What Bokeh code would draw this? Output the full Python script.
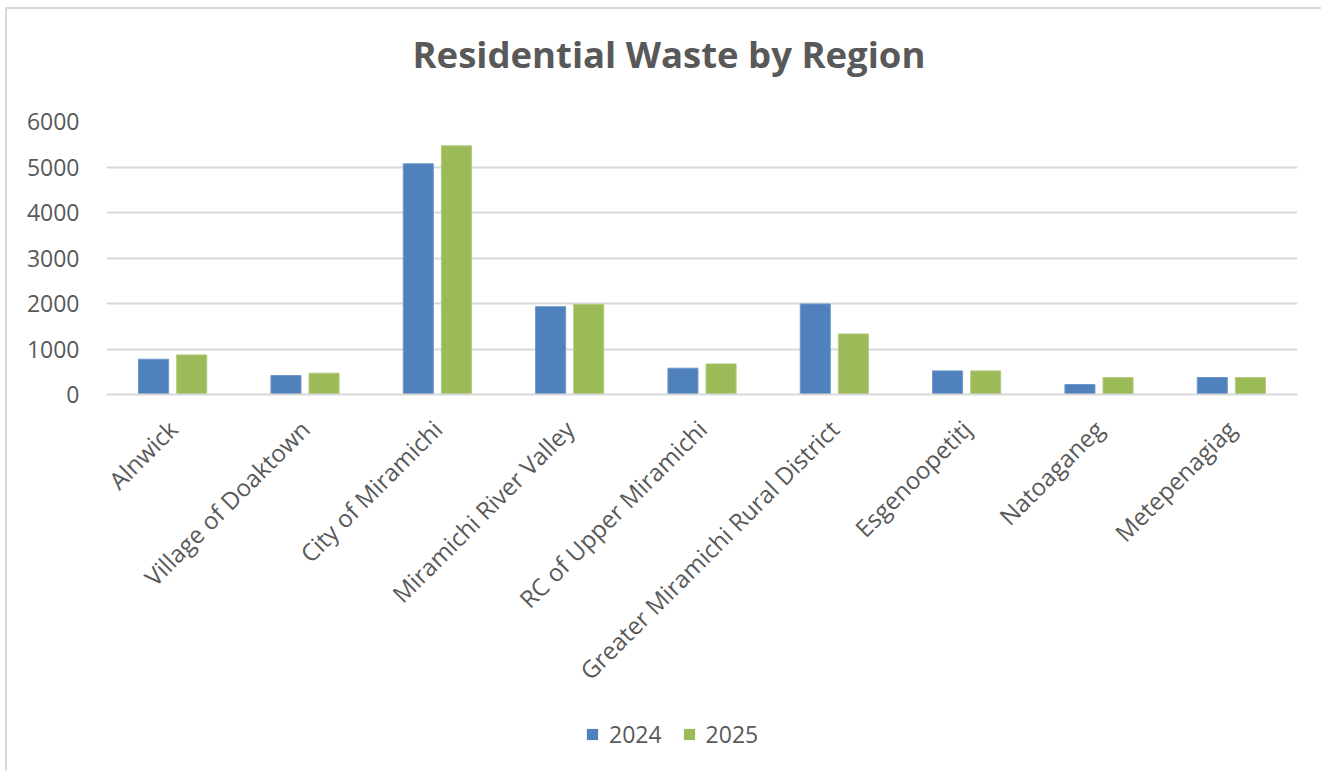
from bokeh.plotting import figure
from bokeh.layouts import column
from bokeh.models import ColumnDataSource, FixedTicker, Legend, LegendItem, Range1d
from bokeh.transform import dodge
from bokeh.embed import file_html
from bokeh.resources import INLINE
import math

regions = ["Alnwick", "Village of Doaktown", "City of Miramichi", "Miramichi River Valley",
           "RC of Upper Miramichi", "Greater Miramichi Rural District", "Esgenoopetitj",
           "Natoaganeg", "Metepenagiag"]
waste_2024 = [775, 417, 5070, 1931, 578, 1990, 519, 219, 373]
waste_2025 = [870, 468, 5465, 1982, 673, 1331, 519, 373, 373]
y_ticks = [0, 1000, 2000, 3000, 4000, 5000, 6000]
series = ["2024", "2025"]
columns = ["y2024", "y2025"]
colors = ["#4f81bd", "#9bbb59"]
edges = ["#6f97c9", "#b1cb7c"]
offsets = [-0.144, 0.144]

src = ColumnDataSource(dict(region=regions, y2024=waste_2024, y2025=waste_2025))

FONT = "Open Sans"
GRAY = "#595959"

# ---- title strip ----
tfig = figure(width=1314, height=94, output_backend="svg", toolbar_location=None,
              x_axis_location=None, y_axis_location=None,
              min_border_left=99, min_border_right=24, min_border_top=0, min_border_bottom=0)
tfig.title.text = "Residential Waste by Region"
tfig.title.text_font = FONT
tfig.title.text_font_size = "36.5px"
tfig.title.text_font_style = "bold"
tfig.title.text_color = GRAY
tfig.title.align = "left"
tfig.title.offset = 306
tfig.title.standoff = 34
tfig.outline_line_color = None
tfig.grid.grid_line_color = None

# ---- main chart ----
p = figure(x_range=regions, y_range=(0, 6000), frame_width=1191, frame_height=273,
           output_backend="svg", toolbar_location=None, title_location=None,
           min_border_left=99, min_border_right=24, min_border_top=18, min_border_bottom=300)

for col, off, c, e in zip(columns, offsets, colors, edges):
    p.vbar(x=dodge("region", off, range=p.x_range), top=col, width=0.227, source=src,
           fill_color=c, line_color=e, line_width=1)

p.outline_line_color = None
p.xgrid.grid_line_color = None
p.ygrid.grid_line_color = "#d9d9d9"
p.ygrid.grid_line_width = 2
p.yaxis.ticker = FixedTicker(ticks=y_ticks)
p.yaxis.axis_line_color = None
p.yaxis.major_tick_line_color = None
p.yaxis.minor_tick_line_color = None
p.yaxis.major_label_standoff = 21
p.yaxis.major_label_text_font = FONT
p.yaxis.major_label_text_font_size = "23px"
p.yaxis.major_label_text_color = GRAY

p.xaxis.axis_line_color = "#d9d9d9"
p.xaxis.axis_line_width = 2
p.xaxis.major_tick_line_color = None
p.xaxis.minor_tick_line_color = None
p.xaxis.major_label_orientation = math.pi / 4
p.xaxis.major_label_standoff = 24
p.xaxis.major_label_text_font = FONT
p.xaxis.major_label_text_font_size = "24px"
p.xaxis.major_label_text_color = GRAY

# ---- legend strip (same series, kept far out of view so only the legend shows) ----
lfig = figure(width=1314, height=70, x_range=regions, y_range=Range1d(100000, 100001),
              output_backend="svg", toolbar_location=None,
              x_axis_location=None, y_axis_location=None, min_border=0)
lfig.outline_line_color = None
lfig.grid.grid_line_color = None
items = []
for name, col, off, c in zip(series, columns, offsets, colors):
    rr = lfig.vbar(x=dodge("region", off, range=lfig.x_range), top=col, width=0.227, source=src,
                   fill_color=c, line_color=None)
    items.append(LegendItem(label=name, renderers=[rr]))
legend = Legend(items=items, orientation="horizontal", location=(479, 21),
                glyph_width=14, glyph_height=14, label_standoff=10, spacing=20,
                padding=0, margin=0, border_line_color=None, background_fill_alpha=0,
                label_text_font=FONT, label_text_font_size="23px", label_text_color=GRAY)
lfig.add_layout(legend, "center")

layout = column(tfig, p, lfig, spacing=0)
layout.styles = {"margin-left": "5px", "margin-top": "7px",
                 "border-top": "2px solid #d9d9d9", "border-left": "2px solid #d9d9d9"}

open("out.html", "w").write(file_html(layout, INLINE))
